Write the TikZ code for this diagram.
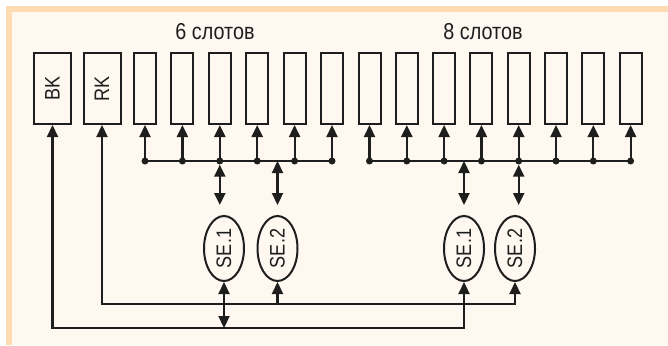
\documentclass[tikz,border=0pt]{standalone}
\usepackage{fontspec}
\setmainfont[FakeStretch=0.86]{Liberation Sans}
\usetikzlibrary{arrows.meta,shapes.geometric}
\definecolor{peach}{RGB}{255,219,178}
\definecolor{cream}{RGB}{254,248,240}
\definecolor{ink}{RGB}{30,30,30}
\begin{document}
\begin{tikzpicture}[x=1pt,y=-1pt,
  slot/.style={draw=ink,line width=2pt,minimum width=22pt,minimum height=71pt,inner sep=0pt},
  cbox/.style={slot,minimum width=37pt,font=\fontsize{21}{21}\selectfont,text=ink},
  se/.style={draw=ink,line width=2pt,ellipse,minimum width=40pt,minimum height=65pt,inner sep=0pt,font=\fontsize{21}{21}\selectfont,text=ink},
  wire/.style={draw=ink,line width=2.2pt},
  tip/.style={-{Triangle[length=12pt,width=11pt]}},
  dtip/.style={{Triangle[length=12pt,width=11pt]}-{Triangle[length=12pt,width=11pt]}},
  dot/.style={circle,fill=ink,inner sep=0pt,minimum size=7pt},
  lab/.style={font=\fontsize{23}{23}\selectfont,text=ink}
]
\fill[white] (0,0) rectangle (668,345);
\fill[peach] (6,6) rectangle (668,345);
\fill[cream] (12,12) rectangle (668,345);
\useasboundingbox (0,0) rectangle (668,345);

\node[lab] (lab6) at (215,32) {6 слотов};
\node[lab] (lab8) at (483,32) {8 слотов};

\node[cbox] (BK) at (52.5,88.5) {\rotatebox{90}{BK}};
\node[cbox] (RK) at (102,88.5) {\rotatebox{90}{RK}};
\foreach \i/\x in {1/145,2/182.4,3/219.8,4/257.2,5/294.6,6/332}
  \node[slot] (a\i) at (\x,88.5) {};
\foreach \i/\x in {1/369.5,2/406.8,3/444.1,4/481.4,5/518.7,6/556,7/593.3,8/630.6}
  \node[slot] (b\i) at (\x,88.5) {};

\coordinate (busA) at (0,161);
\coordinate (busB) at (0,161);
\draw[wire] (a1 |- busA) -- (a6 |- busA);
\draw[wire] (b1 |- busB) -- (b8 |- busB);
\foreach \i in {1,...,6}{
  \draw[wire,tip] (a\i |- busA) -- (a\i.south);
  \node[dot] (da\i) at (a\i |- busA) {};
}
\foreach \i in {1,...,8}{
  \draw[wire,tip] (b\i |- busB) -- (b\i.south);
  \node[dot] (db\i) at (b\i |- busB) {};
}

\node[se] (s1) at (224,248.5) {\rotatebox{90}{SE.1}};
\node[se] (s2) at (277.5,248.5) {\rotatebox{90}{SE.2}};
\node[se] (t1) at (464,248.5) {\rotatebox{90}{SE.1}};
\node[se] (t2) at (515,248.5) {\rotatebox{90}{SE.2}};

\draw[wire,dtip,shorten >=10pt] (da3) -- (a3 |- s1.north);
\draw[wire,dtip,shorten >=10pt] (s2 |- busA) -- (s2.north);
\draw[wire,dtip,shorten >=10pt] (t1 |- busB) -- (t1.north);
\draw[wire,dtip,shorten >=10pt] (db5) -- (b5 |- t2.north);

\coordinate (rkY) at (0,304);
\coordinate (bkY) at (0,328);
\draw[wire,dtip] (RK.south) -- (RK.south |- rkY) -- (t2.south |- rkY) -- (t2.south);
\draw[wire,tip] (s2.south |- rkY) -- (s2.south);
\draw[wire,dtip] (BK.south) -- (BK.south |- bkY) -- (t1.south |- bkY) -- (t1.south);
\draw[wire,dtip] (s1.south |- bkY) -- (s1.south);
\end{tikzpicture}
\end{document}
